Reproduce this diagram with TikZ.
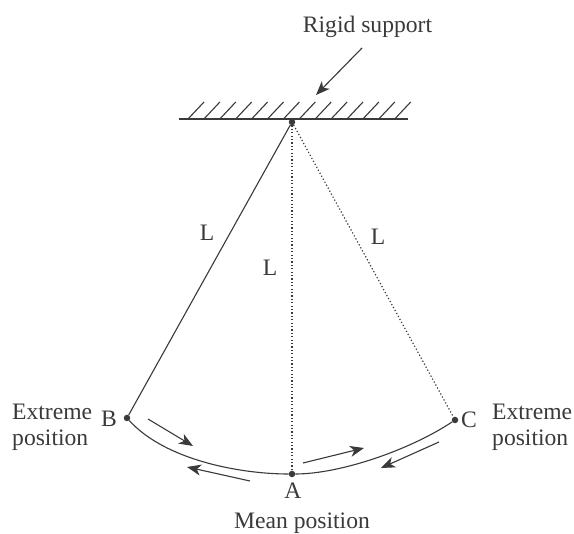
\documentclass[tikz,border=0pt]{standalone}
\usepackage{fontspec}
\setmainfont{Liberation Serif}
\usetikzlibrary{arrows.meta}
\definecolor{ink}{HTML}{3A3A3A}
\tikzset{
  lbl/.style={text=ink,inner sep=0pt,font=\fontsize{23.6}{26}\selectfont,align=left},
  pt/.style={circle,fill=ink,inner sep=0pt,minimum size=6.5pt},
  wire/.style={draw=ink,line width=1.1pt},
  dots/.style={draw=ink,line width=1.2pt,dash pattern=on 1.2pt off 2.2pt},
  hatch/.style={draw=ink,line width=1.1pt},
  dirarrow/.style={draw=ink,line width=1.1pt,-{Stealth[length=14pt,width=11pt,inset=4pt]}}
}
\begin{document}
\begin{tikzpicture}[x=1pt,y=-1pt]
\useasboundingbox (0,0) rectangle (574,534);
\fill[white] (0,0) rectangle (574,534);
\node[pt] (S) at (292,122) {};
\node[pt] (B) at (127,418) {};
\node[pt] (A) at (292,474) {};
\node[pt] (C) at (455,420) {};
\coordinate (barL) at (179,119);
\coordinate (barR) at (408,119);
\draw[wire] (barL) -- (barR);
\foreach \i in {0,...,13}{
  \draw[hatch] ({188+15.9*\i},119) -- ++(16,-17);
}
\draw[wire] (S) -- (B);
\draw[dots] (S) -- (A);
\draw[dots] (S) -- (C);
\draw[wire] (B) .. controls (165,460) and (240,474) .. (A);
\draw[wire] (A) .. controls (340,474) and (410,450) .. (C);
\node[lbl] (rs) at (367.5,27) {Rigid support};
\coordinate (rsA) at (362,48);
\coordinate (rsB) at (316,95);
\draw[dirarrow] (rsA) -- (rsB);
\coordinate (a1) at (148,419); \coordinate (a2) at (193,446);
\coordinate (b1) at (250,481); \coordinate (b2) at (187,467);
\coordinate (c1) at (303,463); \coordinate (c2) at (364,448);
\coordinate (d1) at (439,442); \coordinate (d2) at (381,468);
\draw[dirarrow] (a1) -- (a2);
\draw[dirarrow] (b1) -- (b2);
\draw[dirarrow] (c1) -- (c2);
\draw[dirarrow] (d1) -- (d2);
\node[lbl] (L1) at (207,233) {L};
\node[lbl] (L2) at (270,268) {L};
\node[lbl] (L3) at (378,237) {L};
\node[lbl] (lB) at (109,419) {B};
\node[lbl] (lC) at (469,420) {C};
\node[lbl] (lA) at (293,491) {A};
\node[lbl] (mp) at (302,523) {Mean position};
\node[lbl,anchor=west] (eL) at (12,427) {Extreme\\position};
\node[lbl,anchor=west] (eR) at (492,427) {Extreme\\position};
\end{tikzpicture}
\end{document}
